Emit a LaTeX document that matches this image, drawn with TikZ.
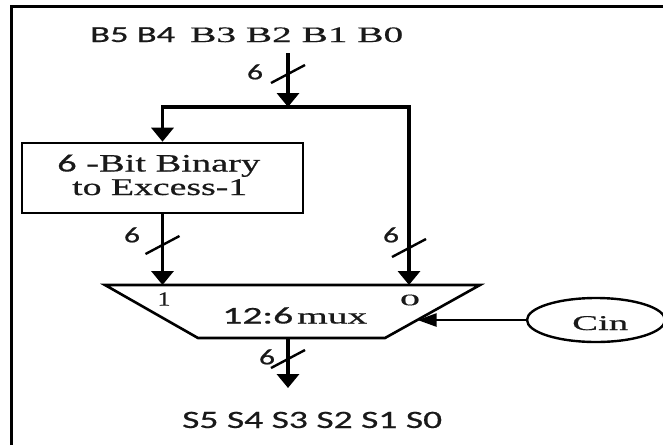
\documentclass[tikz,border=0pt]{standalone}
\usepackage{fontspec}
\setmainfont[FakeBold=0.5,AutoFakeBold=0.5]{Liberation Serif}
\newfontfamily\sansf[FakeBold=0.5,AutoFakeBold=0.5]{Carlito}
\usepackage{graphicx}
\usetikzlibrary{arrows.meta,shapes.geometric}
\newcommand\fitx[2]{\resizebox{#1}{\height}{#2}}
\newcommand\fsz[1]{\fontsize{#1}{#1}\selectfont}
\tikzset{
  txt/.style={inner sep=0pt, text=black!90},
  bus/.style={line width=3.4pt, -{Triangle[width=22pt,length=14pt]}},
  cinarrow/.style={line width=2.4pt, -{Triangle[width=13pt,length=19pt]}},
  busmark/.style={line width=2.4pt},
  block/.style={draw, line width=2.6pt, rectangle, inner sep=0pt},
  oval/.style={draw, line width=2.4pt, ellipse, inner sep=0pt},
  frame/.style={line width=3pt},
}
\newcommand\busslash[2]{\draw[busmark] (#1-17,#2+9) -- (#1+17,#2-9);}
\begin{document}
\begin{tikzpicture}[x=1pt,y=-1pt]
\useasboundingbox (0,0) rectangle (663,445);
\fill[white] (0,0) rectangle (663,445);
% frame
\draw[frame] (11.5,445) -- (11.5,6.5) -- (663,6.5);
% input labels
\node[txt, anchor=base west, font=\sansf\fsz{23}] (b54) at (90,42) {\fitx{85pt}{B5 B4}};
\node[txt, anchor=base west, font=\fsz{22}] (b30) at (190,42) {\fitx{213pt}{B3 B2 B1 B0}};
% coordinates
\coordinate (btop) at (288,53);
\coordinate (j) at (288,107);
\coordinate (m1) at (162.5,285);
\coordinate (m0) at (409,285);
\coordinate (mc) at (417.5,320);
\coordinate (mout) at (288,338);
\coordinate (sout) at (288,388);
% converter block
\node[block, minimum width=281pt, minimum height=70pt] (conv) at (162.5,178) {};
\node[txt, anchor=base west, font=\fsz{25}] (cl1) at (57,171.5) {\fitx{203pt}{{\sansf 6} -Bit Binary}};
\node[txt, anchor=base west, font=\fsz{24}] (cl2) at (72,195) {\fitx{175pt}{to Excess-1}};
% mux
\coordinate (mtl) at (105,285);
\coordinate (mtr) at (480,285);
\coordinate (mbr) at (385,338);
\coordinate (mbl) at (198,338);
\draw[line width=2.6pt, line join=miter] (mtl) -- (mtr) -- (mbr) -- (mbl) -- cycle;
\node[txt, font=\fsz{20}] (in1) at (164,299) {\fitx{13pt}{1}};
\node[txt, font=\fsz{16}] (in0) at (410,300) {\fitx{20pt}{0}};
\node[txt, anchor=base west, font=\sansf\fsz{24}] (mx1) at (222,323.5) {\fitx{71pt}{12:6}};
\node[txt, anchor=base west, font=\fsz{22}] (mx2) at (297,323.5) {\fitx{70pt}{mux}};
% Cin
\node[oval, minimum width=138pt, minimum height=44pt] (cin) at (596,320) {};
\node[txt, anchor=base west, font=\fsz{21}] (cint) at (572,330) {\fitx{56pt}{Cin}};
% output label
\node[txt, anchor=base west, font=\sansf\fsz{25}] (st) at (182,428) {\fitx{260pt}{S5 S4 S3 S2 S1 S0}};
% connectors
\draw[bus] (btop) -- (j);
\draw[bus, line join=miter] (j) -| (conv.north);
\draw[bus, line join=miter] (j) -| (m0);
\draw[bus] (conv.south) -- (m1);
\draw[cinarrow] (cin.west) -- (mc);
\draw[bus] (mout) -- (sout);
% bus width marks
\busslash{288}{74}
\busslash{162.5}{245}
\busslash{409}{248}
\busslash{288}{359}
\node[txt, font=\sansf\fsz{22}] (w1) at (255,72) {\fitx{16pt}{6}};
\node[txt, font=\sansf\fsz{22}] (w2) at (132,235) {\fitx{16pt}{6}};
\node[txt, font=\sansf\fsz{22}] (w3) at (391,235) {\fitx{16pt}{6}};
\node[txt, font=\sansf\fsz{22}] (w4) at (267,357) {\fitx{16pt}{6}};
\end{tikzpicture}
\end{document}
